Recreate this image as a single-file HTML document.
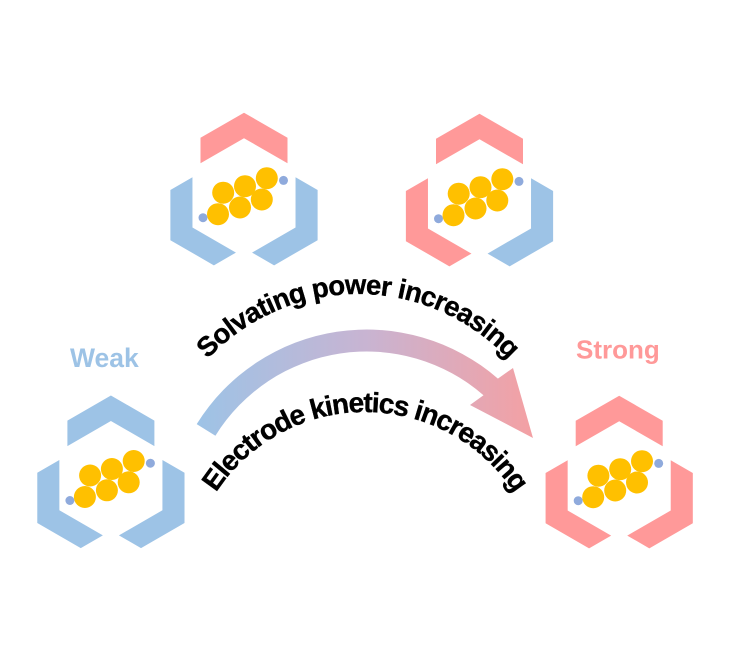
<!DOCTYPE html>
<html>
<head>
<meta charset="utf-8">
<style>
  html, body { margin: 0; padding: 0; background: #ffffff; }
  body { width: 731px; height: 668px; overflow: hidden; }
  svg { display: block; }
  .lbl { font-family: "Liberation Sans", Arial, sans-serif; font-weight: bold; }
</style>
</head>
<body>
<svg width="731" height="668" viewBox="0 0 731 668" xmlns="http://www.w3.org/2000/svg">
  <defs>
    <path id="chev" d="M0,-85 L43.5,-59.9 L43.5,-34.4 L0,-59.5 L-43.5,-34.4 L-43.5,-59.9 Z"/>
    <g id="mol">
      <circle cx="-41" cy="20" r="4.5" fill="#8FAADC"/>
      <circle cx="39.5" cy="-17.3" r="4.5" fill="#8FAADC"/>
      <circle cx="-20.8" cy="-5" r="11" fill="#FFC000"/>
      <circle cx="1" cy="-11.5" r="11" fill="#FFC000"/>
      <circle cx="22.8" cy="-19.5" r="11" fill="#FFC000"/>
      <circle cx="-26" cy="16.5" r="11" fill="#FFC000"/>
      <circle cx="-4" cy="9.8" r="11" fill="#FFC000"/>
      <circle cx="17.8" cy="1.8" r="11" fill="#FFC000"/>
    </g>
    <linearGradient id="ag" gradientUnits="userSpaceOnUse" x1="197" y1="0" x2="534" y2="0">
      <stop offset="0" stop-color="#9DC3E6"/>
      <stop offset="0.5" stop-color="#C8B4D2"/>
      <stop offset="1" stop-color="#F4A0A3"/>
    </linearGradient>
    <path id="t1" d="M152,500 A206,206 0 0 1 564,500" fill="none"/>
    <path id="t2" d="M187,590 A178,178 0 0 1 543,590" fill="none"/>
  </defs>

  <!-- Top-left icon -->
  <g transform="translate(244,197.7)">
    <use href="#chev" fill="#FF9999"/>
    <use href="#chev" transform="rotate(120)" fill="#9DC3E6"/>
    <use href="#chev" transform="rotate(240)" fill="#9DC3E6"/>
    <use href="#mol"/>
  </g>

  <!-- Top-right icon -->
  <g transform="translate(479.5,198.7)">
    <use href="#chev" fill="#FF9999"/>
    <use href="#chev" transform="rotate(120)" fill="#9DC3E6"/>
    <use href="#chev" transform="rotate(240)" fill="#FF9999"/>
    <use href="#mol"/>
  </g>

  <!-- Bottom-left icon -->
  <g transform="translate(110.9,480.5)">
    <use href="#chev" fill="#9DC3E6"/>
    <use href="#chev" transform="rotate(120)" fill="#9DC3E6"/>
    <use href="#chev" transform="rotate(240)" fill="#9DC3E6"/>
    <use href="#mol"/>
  </g>

  <!-- Bottom-right icon -->
  <g transform="translate(619.2,480.7)">
    <use href="#chev" fill="#FF9999"/>
    <use href="#chev" transform="rotate(120)" fill="#FF9999"/>
    <use href="#chev" transform="rotate(240)" fill="#FF9999"/>
    <use href="#mol"/>
  </g>

  <!-- Curved gradient arrow -->
  <path d="M196.7,424.1 A200,200 0 0 1 497.9,378.6 L513,368 L533,438 L470,405 L483.5,395.2 A178,178 0 0 0 215.4,435.7 Z" fill="url(#ag)"/>

  <!-- Curved labels -->
  <text class="lbl" font-size="27.5" fill="#000000" stroke="#000000" stroke-width="0.4" letter-spacing="-0.8">
    <textPath href="#t1" startOffset="50%" text-anchor="middle">Solvating power increasing</textPath>
  </text>
  <text class="lbl" font-size="28" fill="#000000" stroke="#000000" stroke-width="0.4" letter-spacing="-1.2">
    <textPath href="#t2" startOffset="50%" text-anchor="middle">Electrode kinetics increasing</textPath>
  </text>

  <!-- Weak / Strong labels -->
  <text class="lbl" x="70" y="367" font-size="26.5" fill="#9DC3E6">Weak</text>
  <text class="lbl" x="576" y="358.5" font-size="26" fill="#FF9999">Strong</text>
</svg>
</body>
</html>
